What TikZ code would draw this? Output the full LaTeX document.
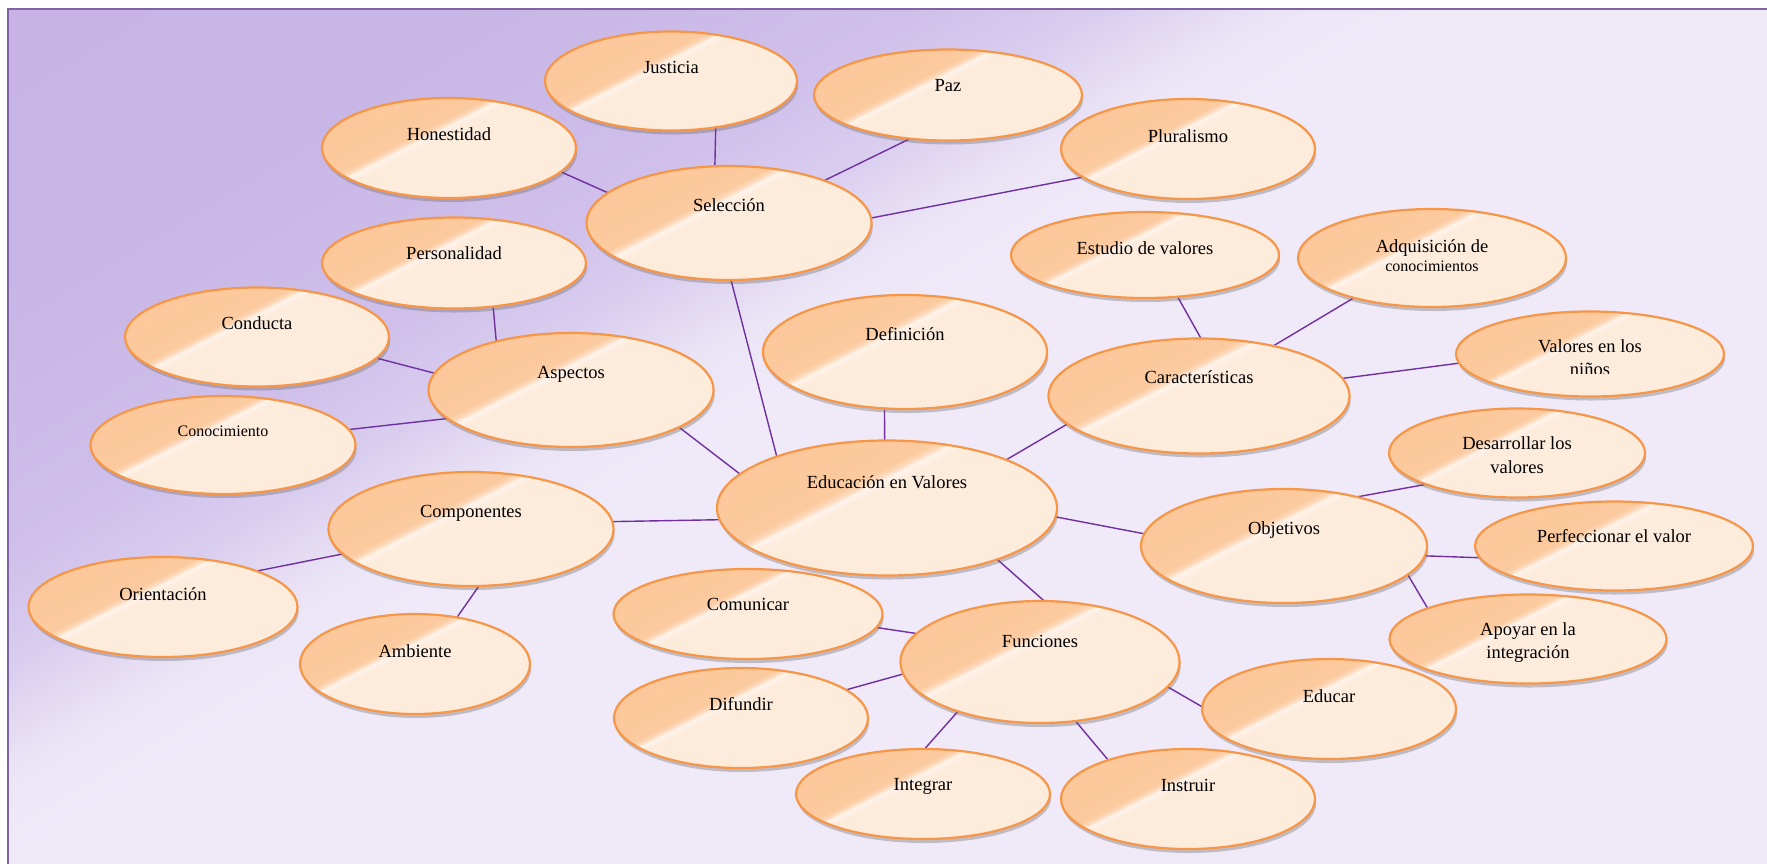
\documentclass[tikz,border=0pt]{standalone}
\usepackage{fontspec}
\setmainfont{Liberation Serif}
\usetikzlibrary{shapes.geometric,shadows}
\definecolor{bubA}{HTML}{FCC393}
\definecolor{bubA2}{HTML}{FCCA9F}
\definecolor{bubA3}{HTML}{FDDABD}
\definecolor{bubHi}{HTML}{FFF3EA}
\definecolor{bubB}{HTML}{FDEBDC}
\definecolor{bubLine}{HTML}{F79646}
\definecolor{linkc}{HTML}{7030A0}
\definecolor{bgA}{HTML}{C6B3E4}
\definecolor{bgA1}{HTML}{C7B5E5}
\definecolor{bgA2}{HTML}{CFBFEA}
\definecolor{bgA3}{HTML}{D9CDEF}
\definecolor{bgB2}{HTML}{ECE5F6}
\definecolor{bgB}{HTML}{EFE9F8}
\definecolor{bgLine}{HTML}{8064A2}
\pgfdeclarehorizontalshading{bubshade}{100bp}{color(0bp)=(bubA); color(41bp)=(bubA2); color(42.5bp)=(bubA3); color(43.5bp)=(bubHi); color(45.5bp)=(bubB); color(100bp)=(bubB)}
\pgfdeclarehorizontalshading{bgshade}{100bp}{color(0bp)=(bgA); color(25bp)=(bgA1); color(35bp)=(bgA2); color(39bp)=(bgA3); color(43bp)=(bgB2); color(46bp)=(bgB); color(100bp)=(bgB)}
\pgfdeclarelayer{bg}
\pgfdeclarelayer{lines}
\pgfsetlayers{bg,lines,main}
\newcommand\bubble[5]{\node[bub, minimum width=#4*0.5pt, minimum height=#5*0.5pt] (#1) at (#2,#3) {};}
\begin{document}
\begin{tikzpicture}[x=0.5pt,y=-0.5pt,
  bub/.style={ellipse, draw=bubLine, line width=1.1pt, shade, shading=bubshade, shading angle=-63,
    inner sep=0pt, outer sep=0pt,
    drop shadow={shadow xshift=0.6pt, shadow yshift=-2pt, opacity=0.35, fill=black!60}},
  lbl/.style={anchor=base, inner sep=0pt, font=\fontsize{9.25pt}{11pt}\selectfont, text=black},
  lbls/.style={lbl, font=\fontsize{8pt}{10pt}\selectfont},
  link/.style={draw=linkc, line width=0.7pt}]
\useasboundingbox (0,0) rectangle (1767,863);
\begin{pgfonlayer}{bg}
  \path[draw=bgLine, line width=1.3pt, shade, shading=bgshade, shading angle=-59] (8,9) rectangle (1780,876);
\end{pgfonlayer}

% ellipses
\bubble{jus}{671}{81}{252}{99}
\bubble{paz}{948}{95}{268}{91}
\bubble{hon}{449}{148}{254}{100}
\bubble{plu}{1188}{149}{254}{100}
\bubble{sel}{729}{223}{285}{114}
\bubble{per}{454}{263}{264}{91}
\bubble{est}{1145}{255}{268}{86}
\bubble{adq}{1432}{258}{268}{98}
\bubble{con}{257}{337}{264}{99}
\bubble{def}{905}{352}{284}{114}
\bubble{asp}{571}{390}{285}{114}
\bubble{car}{1199}{396}{301}{115}
\bubble{val}{1590}{354}{268}{85}
\bubble{cno}{223}{445}{265}{98}
\bubble{des}{1517}{453}{256}{89}
\bubble{edu}{887}{508}{340}{135}
\bubble{com}{471}{529}{285}{114}
\bubble{obj}{1284}{546}{286}{114}
\bubble{pef}{1614}{546}{278}{89}
\bubble{ori}{163}{607}{269}{100}
\bubble{cmu}{748}{614}{269}{90}
\bubble{apo}{1528}{639}{277}{89}
\bubble{fun}{1040}{662}{279}{122}
\bubble{amb}{415}{664}{230}{100}
\bubble{dif}{741}{718}{254}{100}
\bubble{edr}{1329}{709}{254}{100}
\bubble{int}{923}{794}{254}{90}
\bubble{ins}{1188}{799}{254}{100}

% labels
\node[lbl] (jus-t) at ([yshift=-21pt]jus.north) {Justicia};
\node[lbl] (paz-t) at ([yshift=-21pt]paz.north) {Paz};
\node[lbl] (hon-t) at ([yshift=-21pt]hon.north) {Honestidad};
\node[lbl] (plu-t) at ([yshift=-21.5pt]plu.north) {Pluralismo};
\node[lbl] (sel-t) at ([yshift=-22.5pt]sel.north) {Selección};
\node[lbl] (per-t) at ([yshift=-21pt]per.north) {Personalidad};
\node[lbl] (est-t) at ([yshift=-21pt]est.north) {Estudio de valores};
\node[lbl] (adq-t) at ([yshift=-21.6pt]adq.north) {Adquisición de};
\node[lbls] (adq-t2) at ([yshift=-31pt]adq.north) {conocimientos};
\node[lbl] (con-t) at ([yshift=-21pt]con.north) {Conducta};
\node[lbl] (def-t) at ([yshift=-22.5pt]def.north) {Definición};
\node[lbl] (asp-t) at ([yshift=-22.5pt]asp.north) {Aspectos};
\node[lbl] (car-t) at ([yshift=-22.3pt]car.north) {Características};
\node[lbl] (val-t) at ([yshift=-20.3pt]val.north) {Valores en los};
\begin{scope}
  \clip (1450,300) rectangle (1730,373);
  \node[lbl] (val-t2) at ([yshift=-32pt]val.north) {niños};
\end{scope}
\node[lbls] (cno-t) at ([yshift=-20pt]cno.north) {Conocimiento};
\node[lbl] (des-t) at ([yshift=-20.6pt]des.north) {Desarrollar los};
\node[lbl] (des-t2) at ([yshift=-32.6pt]des.north) {valores};
\node[lbl] (edu-t) at ([yshift=-24pt]edu.north) {Educación en Valores};
\node[lbl] (com-t) at ([yshift=-22.7pt]com.north) {Componentes};
\node[lbl] (obj-t) at ([yshift=-22.7pt]obj.north) {Objetivos};
\node[lbl] (pef-t) at ([yshift=-20.5pt]pef.north) {Perfeccionar el valor};
\node[lbl] (ori-t) at ([yshift=-21.5pt]ori.north) {Orientación};
\node[lbl] (cmu-t) at ([yshift=-20.7pt]cmu.north) {Comunicar};
\node[lbl] (apo-t) at ([yshift=-20.7pt]apo.north) {Apoyar en la};
\node[lbl] (apo-t2) at ([yshift=-32pt]apo.north) {integración};
\node[lbl] (fun-t) at ([yshift=-23pt]fun.north) {Funciones};
\node[lbl] (amb-t) at ([yshift=-21.5pt]amb.north) {Ambiente};
\node[lbl] (dif-t) at ([yshift=-21.2pt]dif.north) {Difundir};
\node[lbl] (edr-t) at ([yshift=-21.5pt]edr.north) {Educar};
\node[lbl] (int-t) at ([yshift=-20.7pt]int.north) {Integrar};
\node[lbl] (ins-t) at ([yshift=-21pt]ins.north) {Instruir};

% connectors
\begin{pgfonlayer}{lines}
\draw[link] (hon.-12) -- (sel.166.6);
\draw[link] (jus.-46) -- (sel.104);
\draw[link] (paz.229) -- (sel.24);
\draw[link] (plu.195) -- (sel.2);
\draw[link] (sel.272) -- (edu.155);
\draw[link] (per.-48) -- (asp.147);
\draw[link] (con.-10.5) -- (asp.173);
\draw[link] (cno.7.4) -- (asp.193.6);
\draw[link] (asp.-19) -- (edu.167.5);
\draw[link] (def.250.6) -- (edu.92);
\draw[link] (est.-52.7) -- (car.88);
\draw[link] (adq.207.8) -- (car.34.6);
\draw[link] (val.184.3) -- (car.7.8);
\draw[link] (car.192.3) -- (edu.22.5);
\draw[link] (com.3.2) -- (edu.184.2);
\draw[link] (ori.21.1) -- (com.191.9);
\draw[link] (amb.48) -- (com.278.7);
\draw[link] (edu.-3.8) -- (obj.175.9);
\draw[link] (des.199.9) -- (obj.34.9);
\draw[link] (pef.185.1) -- (obj.-4.5);
\draw[link] (apo.163.3) -- (obj.-13.7);
\draw[link] (edu.-25.4) -- (fun.86.8);
\draw[link] (cmu.-6.4) -- (fun.167.9);
\draw[link] (dif.15.6) -- (fun.185.6);
\draw[link] (edr.179.5) -- (fun.-11.6);
\draw[link] (int.88.6) -- (fun.211.9);
\draw[link] (ins.154.7) -- (fun.301.4);
\end{pgfonlayer}
\end{tikzpicture}
\end{document}
